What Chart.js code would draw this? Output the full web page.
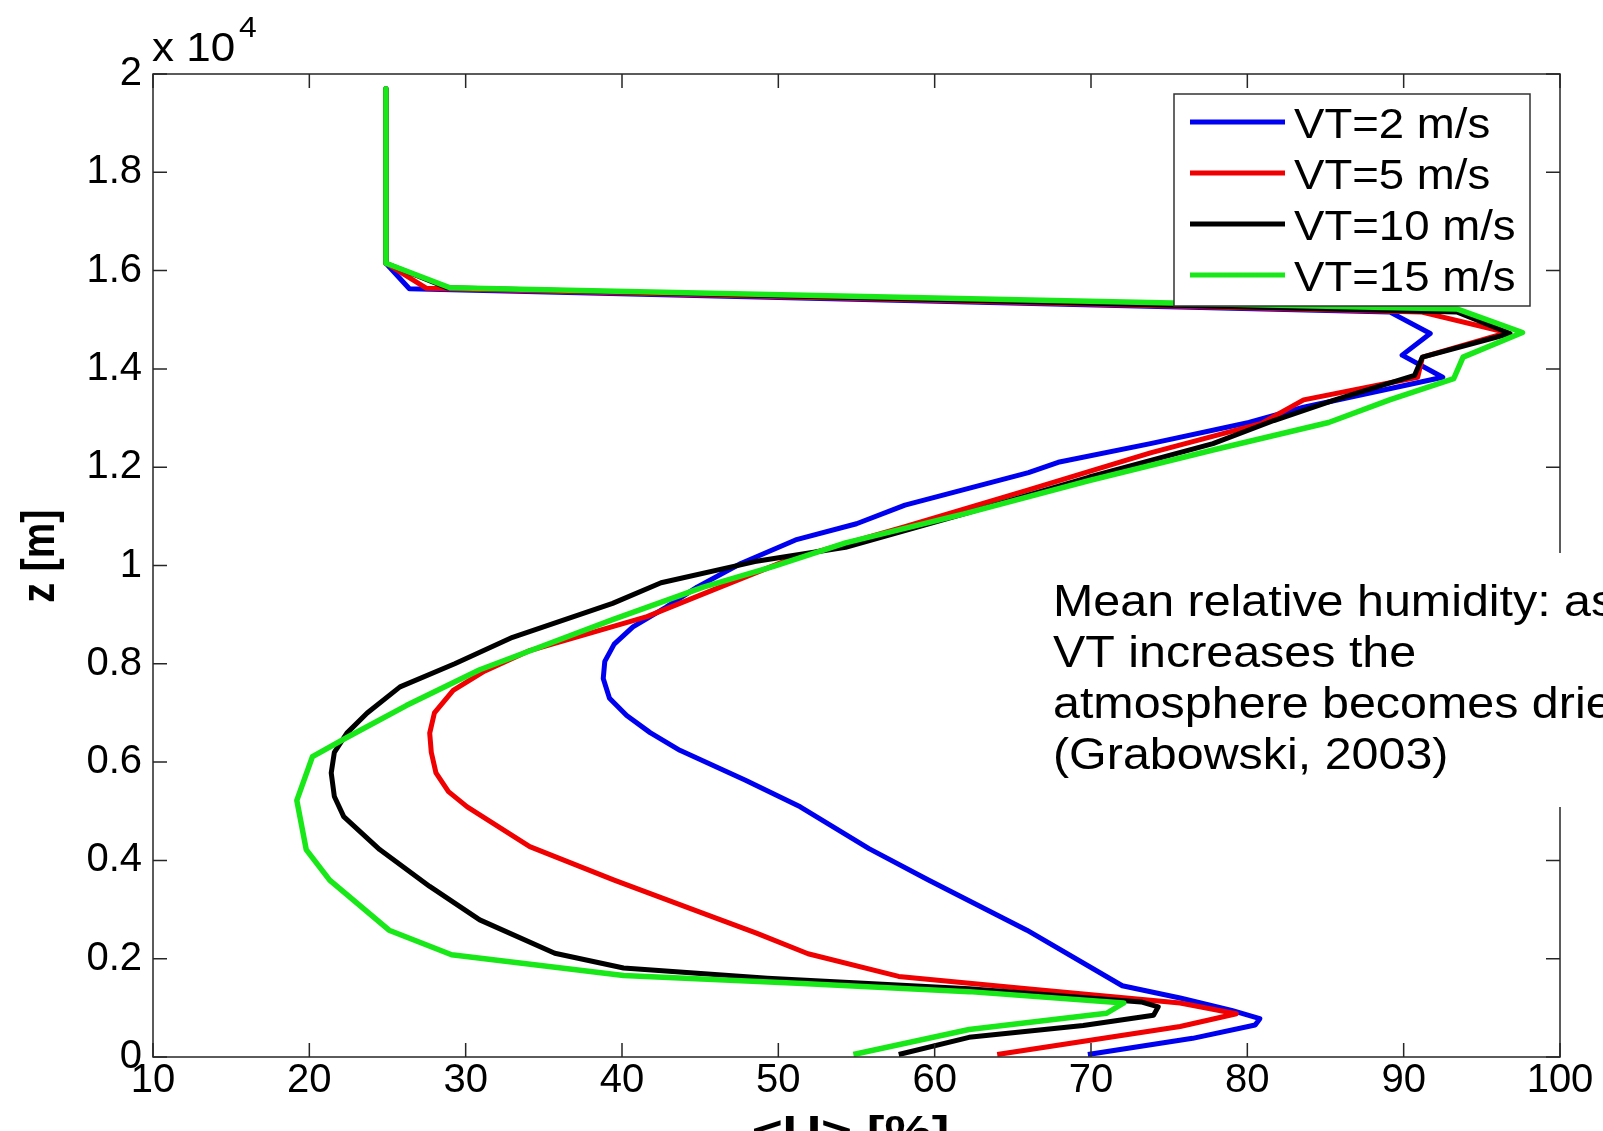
<!DOCTYPE html>
<html>
<head>
<meta charset="utf-8">
<title>Mean relative humidity</title>
<script src="https://cdn.jsdelivr.net/npm/chart.js@4.4.1/dist/chart.umd.min.js"></script>
<style>
  html, body { margin: 0; padding: 0; background: #fff; }
  canvas { display: block; }
</style>
</head>
<body>
<canvas id="rhChart" width="1603" height="1131"></canvas>
<script>
// profiles: z in m, <U> in %
const vt2Z = [19700, 16150, 15630, 15160, 14720, 14280, 13830, 13220, 12910, 12480, 12100, 11890, 11230, 10850, 10520, 10040, 9560, 9150, 8750, 8400, 8050, 7700, 7300, 6950, 6600, 6240, 5630, 5090, 4240, 3600, 2580, 1450, 1200, 950, 780, 650, 380, 50];
const vt2U = [24.9, 24.9, 26.4, 89.1, 91.7, 89.9, 92.5, 83.6, 80.1, 73.8, 67.9, 66.0, 58.1, 55.0, 51.1, 47.6, 44.8, 42.8, 40.7, 39.5, 38.9, 38.8, 39.2, 40.3, 41.8, 43.7, 47.9, 51.4, 55.8, 59.6, 65.9, 72.0, 75.7, 79.0, 80.8, 80.5, 76.5, 69.8];

const vt5Z = [19700, 16150, 15640, 15160, 14740, 14240, 13830, 13370, 12890, 12290, 11540, 10790, 10100, 9500, 8960, 8270, 7850, 7460, 7000, 6590, 6200, 5780, 5400, 5090, 4280, 3600, 2850, 2520, 2100, 1640, 1390, 1100, 880, 620, 50];
const vt5U = [24.9, 24.9, 27.5, 91.1, 96.6, 91.2, 90.9, 83.6, 80.9, 73.8, 66.0, 58.1, 50.5, 45.8, 41.6, 34.1, 31.2, 29.2, 28.0, 27.7, 27.8, 28.1, 28.9, 30.1, 34.1, 39.5, 45.8, 48.6, 51.9, 57.7, 65.9, 75.7, 79.3, 75.7, 64.0];

const vt10Z = [19700, 16150, 15650, 15160, 14720, 14240, 13870, 13370, 12950, 12480, 11800, 11060, 10370, 10080, 9650, 9230, 8540, 8000, 7530, 7000, 6590, 6200, 5780, 5300, 4890, 4220, 3470, 2790, 2110, 1810, 1600, 1390, 1120, 1020, 850, 640, 400, 50];
const vt10U = [24.9, 24.9, 28.8, 93.4, 96.8, 91.2, 90.7, 85.6, 81.7, 77.8, 69.9, 62.0, 54.3, 48.5, 42.5, 39.4, 33.0, 29.3, 25.8, 23.7, 22.4, 21.6, 21.4, 21.6, 22.2, 24.5, 27.7, 30.9, 35.7, 40.1, 49.3, 62.2, 73.2, 74.3, 74.0, 69.5, 62.2, 57.7];

const vt15Z = [19700, 16150, 15650, 15220, 14740, 14240, 13800, 13370, 12910, 12350, 11730, 11060, 10460, 9980, 9560, 8900, 7880, 7150, 6500, 6110, 5220, 4220, 3600, 2580, 2080, 1660, 1500, 1330, 1100, 890, 560, 50];
const vt15U = [24.9, 24.9, 29.0, 93.4, 97.6, 93.8, 93.2, 89.1, 85.2, 77.8, 69.9, 62.0, 54.3, 49.7, 45.2, 39.4, 30.9, 26.2, 22.4, 20.2, 19.2, 19.8, 21.3, 25.1, 29.1, 40.1, 51.2, 62.2, 72.1, 71.0, 62.2, 54.8];

const seriesNames = ['VT=2 m/s', 'VT=5 m/s', 'VT=10 m/s', 'VT=15 m/s'];
const seriesColors = ['#0000f0', '#f00000', '#000000', '#18e818'];
const noteLines = ['Mean relative humidity: as', 'VT increases the', 'atmosphere becomes drier', '(Grabowski, 2003)'];

const FONT = '"Liberation Sans", Arial, Helvetica, sans-serif';
const TICK = 14;

function toPoints(us, zs) {
  return us.map((u, i) => ({x: u, y: zs[i]}));
}

// text in the original is a bit wider than it is tall
function wideText(ctx, str, x, y, sx, align) {
  ctx.save();
  ctx.translate(x, y);
  ctx.scale(sx, 1);
  ctx.textAlign = align || 'left';
  ctx.fillText(str, 0, 0);
  ctx.restore();
}

const matlabFrame = {
  id: 'matlabFrame',
  afterDatasetsDraw(chart) {
    const {ctx, chartArea: a, scales: {x, y}} = chart;
    ctx.save();
    ctx.strokeStyle = '#262626';
    ctx.lineWidth = 1.5;
    ctx.strokeRect(a.left, a.top, a.right - a.left, a.bottom - a.top);
    ctx.beginPath();
    x.ticks.forEach(t => {
      const px = x.getPixelForValue(t.value);
      ctx.moveTo(px, a.bottom); ctx.lineTo(px, a.bottom - TICK);
      ctx.moveTo(px, a.top); ctx.lineTo(px, a.top + TICK);
    });
    y.ticks.forEach(t => {
      const py = y.getPixelForValue(t.value);
      ctx.moveTo(a.left, py); ctx.lineTo(a.left + TICK, py);
      ctx.moveTo(a.right, py); ctx.lineTo(a.right - TICK, py);
    });
    ctx.stroke();
    ctx.restore();
  },
  afterDraw(chart) {
    const {ctx, chartArea: a} = chart;
    ctx.save();
    ctx.fillStyle = '#000';
    ctx.textBaseline = 'alphabetic';

    // exponent over the y axis
    ctx.font = '40px ' + FONT;
    wideText(ctx, 'x 10', a.left - 1, 61, 1.1);
    ctx.font = '29px ' + FONT;
    wideText(ctx, '4', a.left + 86, 37, 1.1);

    // axis titles
    ctx.font = 'bold 45px ' + FONT;
    wideText(ctx, '<U> [%]', (a.left + a.right) / 2 - 6, 1147, 1.18, 'center');
    ctx.save();
    ctx.translate(41, 556);
    ctx.scale(1.15, 1);
    ctx.rotate(-Math.PI / 2);
    ctx.font = 'bold 40px ' + FONT;
    ctx.textAlign = 'center';
    ctx.textBaseline = 'middle';
    ctx.fillText('z [m]', 0, 0);
    ctx.restore();

    // annotation on a white patch that hides the right border
    ctx.fillStyle = '#fff';
    ctx.fillRect(1040, 553, 1603 - 1040, 807 - 553);
    ctx.fillStyle = '#000';
    ctx.font = '44px ' + FONT;
    noteLines.forEach((s, i) => wideText(ctx, s, 1053, 616 + i * 51, 1.1));

    // legend box
    const lx = 1174, ly = 94, lw = 356, lh = 212;
    ctx.fillStyle = '#fff';
    ctx.fillRect(lx, ly, lw, lh);
    ctx.strokeStyle = '#333';
    ctx.lineWidth = 1.5;
    ctx.strokeRect(lx, ly, lw, lh);
    ctx.font = '43px ' + FONT;
    seriesNames.forEach((name, i) => {
      const ry = 122 + i * 51;
      ctx.strokeStyle = seriesColors[i];
      ctx.lineWidth = 5;
      ctx.beginPath();
      ctx.moveTo(1190, ry);
      ctx.lineTo(1285, ry);
      ctx.stroke();
      ctx.fillStyle = '#000';
      wideText(ctx, name, 1294, ry + 16, 1.06);
    });
    ctx.restore();
  }
};

const lineStyle = (label, us, zs, color, width, order) => ({
  label: label,
  data: toPoints(us, zs),
  showLine: true,
  borderColor: color,
  backgroundColor: color,
  borderWidth: width,
  borderJoinStyle: 'round',
  pointRadius: 0,
  pointHoverRadius: 0,
  tension: 0,
  order: order
});

new Chart(document.getElementById('rhChart'), {
  type: 'scatter',
  data: {
    datasets: [
      lineStyle(seriesNames[0], vt2U, vt2Z, seriesColors[0], 5, 4),
      lineStyle(seriesNames[1], vt5U, vt5Z, seriesColors[1], 5, 3),
      lineStyle(seriesNames[2], vt10U, vt10Z, seriesColors[2], 5, 2),
      lineStyle(seriesNames[3], vt15U, vt15Z, seriesColors[3], 5.5, 1)
    ]
  },
  options: {
    responsive: false,
    animation: false,
    devicePixelRatio: 1,
    events: [],
    layout: {padding: {top: 74, right: 43, left: 0, bottom: 0}},
    plugins: {
      legend: {display: false},
      tooltip: {enabled: false}
    },
    scales: {
      x: {
        type: 'linear',
        min: 10,
        max: 100,
        afterFit: s => { s.height = 74; },
        grid: {display: false, drawTicks: false},
        border: {display: false},
        ticks: {
          stepSize: 10,
          autoSkip: false,
          maxRotation: 0,
          padding: 0,
          color: '#000',
          font: {family: FONT, size: 40}
        }
      },
      y: {
        type: 'linear',
        min: 0,
        max: 20000,
        afterFit: s => { s.width = 153; },
        grid: {display: false, drawTicks: false},
        border: {display: false},
        ticks: {
          stepSize: 2000,
          padding: 11,
          color: '#000',
          font: {family: FONT, size: 40},
          callback: v => String(+(v / 10000).toFixed(1))
        }
      }
    }
  },
  plugins: [matlabFrame]
});
</script>
</body>
</html>
